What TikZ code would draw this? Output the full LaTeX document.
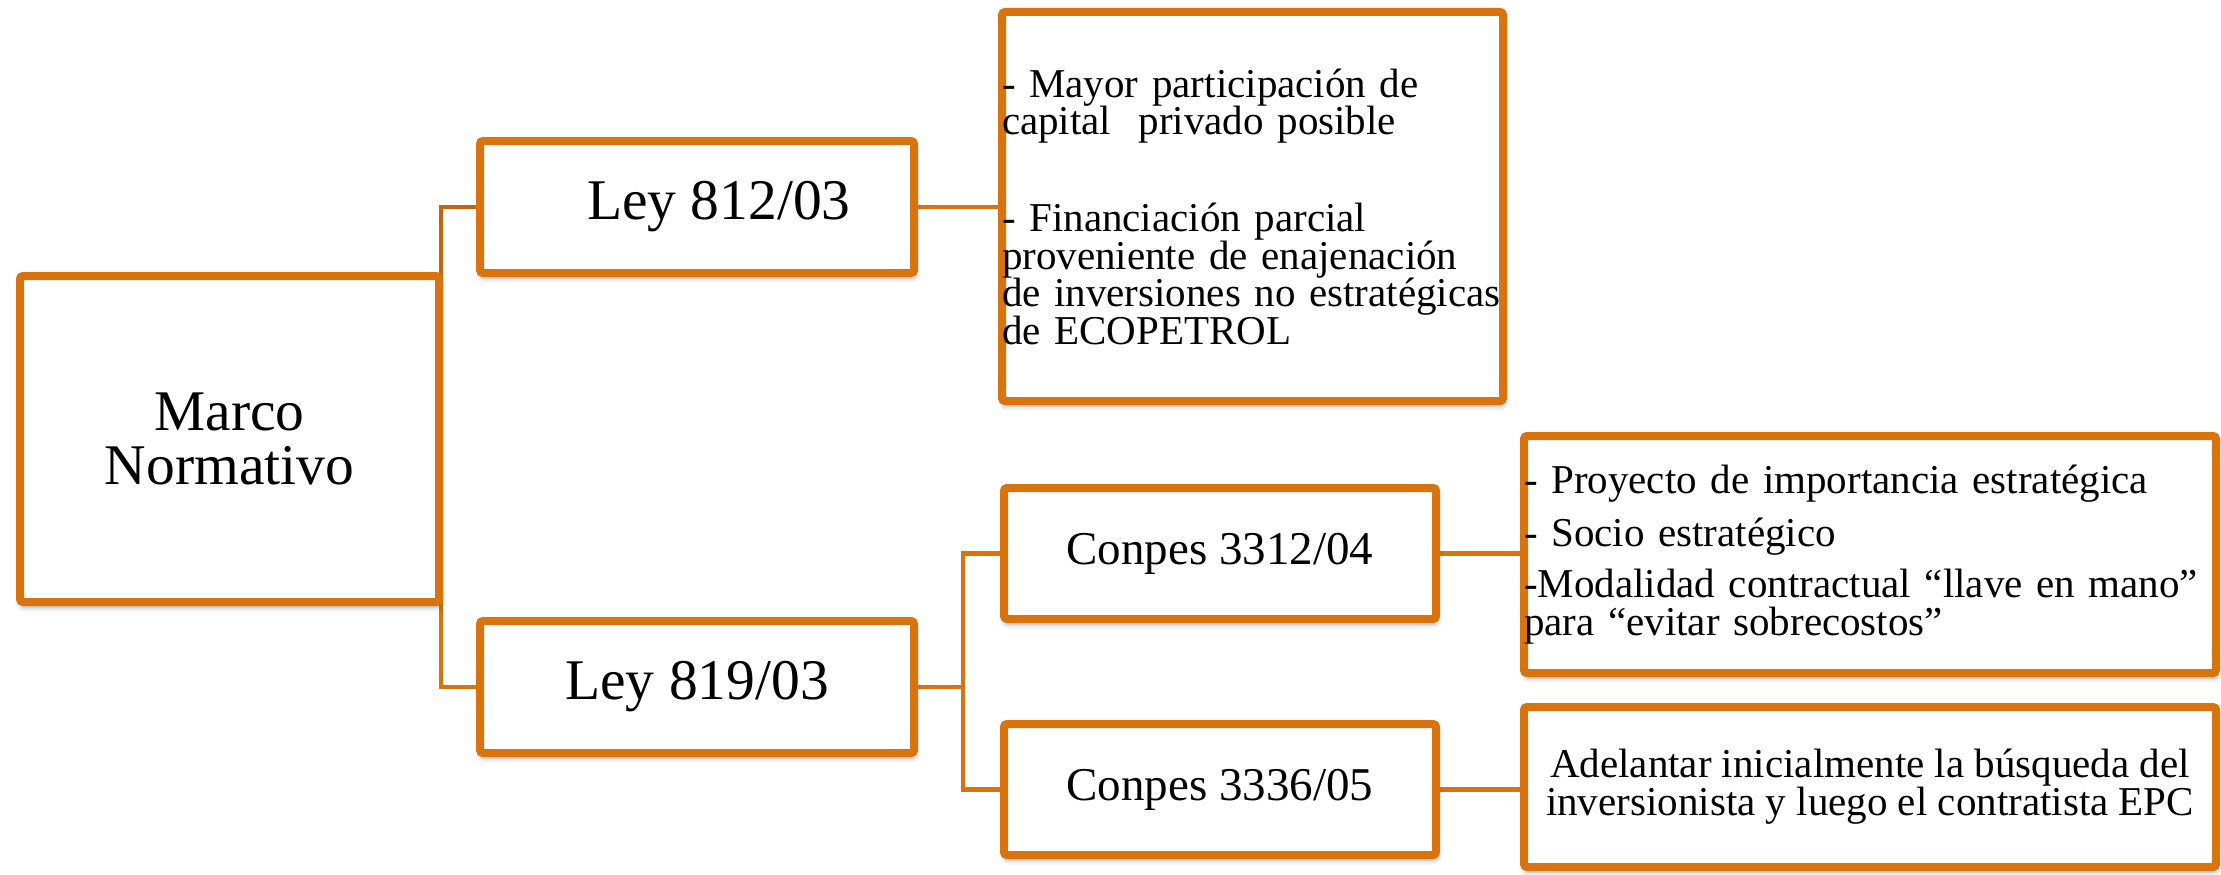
\documentclass[tikz,border=0pt]{standalone}
\usepackage{fontspec}
\setmainfont{Liberation Serif}
\usetikzlibrary{shadows.blur,backgrounds}
\definecolor{orng}{RGB}{217,115,13}
\definecolor{orngdark}{RGB}{196,101,10}
\tikzset{
 box/.style={draw=orng, line width=8pt, fill=white, rounded corners=3pt, inner sep=0pt,
   blur shadow={shadow xshift=1pt, shadow yshift=-5pt, shadow blur radius=5pt, shadow opacity=35}},
 conn/.style={draw=orng, line width=4.5pt},
 body/.style={font=\fontsize{41pt}{37.5pt}\selectfont},
 big/.style={font=\fontsize{57.5pt}{54pt}\selectfont},
 mid/.style={font=\fontsize{47pt}{50pt}\selectfont},
}
\begin{document}
\begin{tikzpicture}[x=1pt,y=-1pt]
\useasboundingbox (0,0) rectangle (2221,875);
% level 0
\node[box, big, minimum width=419pt, minimum height=326pt, align=center] (marco) at (229.5,439) {Marco\\Normativo};
% level 1
\node[box, big, minimum width=434pt, minimum height=132pt] (ley812) at (697,207) {\hspace*{44pt}Ley 812/03};
\node[box, big, minimum width=434pt, minimum height=132pt] (ley819) at (697,687) {Ley 819/03};
% level 2
\node[box, body, minimum width=501pt, minimum height=389pt, text width=501pt, align=left] (b2) at (1252.5,206.5)
 {- Mayor participación de\\capital~ privado posible\\[59.5pt]- Financiación parcial\\proveniente de enajenación\\de inversiones no estratégicas\\de ECOPETROL};
\node[box, mid, minimum width=432pt, minimum height=131pt] (c1) at (1220,553.5) {Conpes 3312/04};
\node[box, mid, minimum width=432pt, minimum height=131pt] (c2) at (1220,789.5) {Conpes 3336/05};
% level 3
\node[box, body, minimum width=692pt, minimum height=237pt, text width=692pt, align=left] (b3) at (1870,554.5)
 {- Proyecto de importancia estratégica\\[15pt]- Socio estratégico\\[14pt]-Modalidad contractual “llave en mano”\\para “evitar sobrecostos”};
\node[box, minimum width=692pt, minimum height=160pt, align=center, font=\fontsize{41pt}{36pt}\selectfont] (b4) at (1870,787)
 {Adelantar inicialmente la búsqueda del\\inversionista y luego el contratista EPC};
% connectors
\begin{scope}[on background layer]
\draw[conn, draw=orngdark] (marco.east) ++(-2,0) |- (ley812.west);
\draw[conn] (marco.east) ++(-2,0) |- (ley819.west);
\draw[conn] (ley812.east) -- (ley812.east -| b2.west);
\draw[conn] (ley819.east) -- ++(45,0) |- (c1.west);
\draw[conn] (ley819.east) ++(45,0) |- (c2.west);
\draw[conn] (c1.east) -- (c1.east -| b3.west);
\draw[conn] (c2.east) -- (c2.east -| b4.west);
\end{scope}
\end{tikzpicture}
\end{document}
